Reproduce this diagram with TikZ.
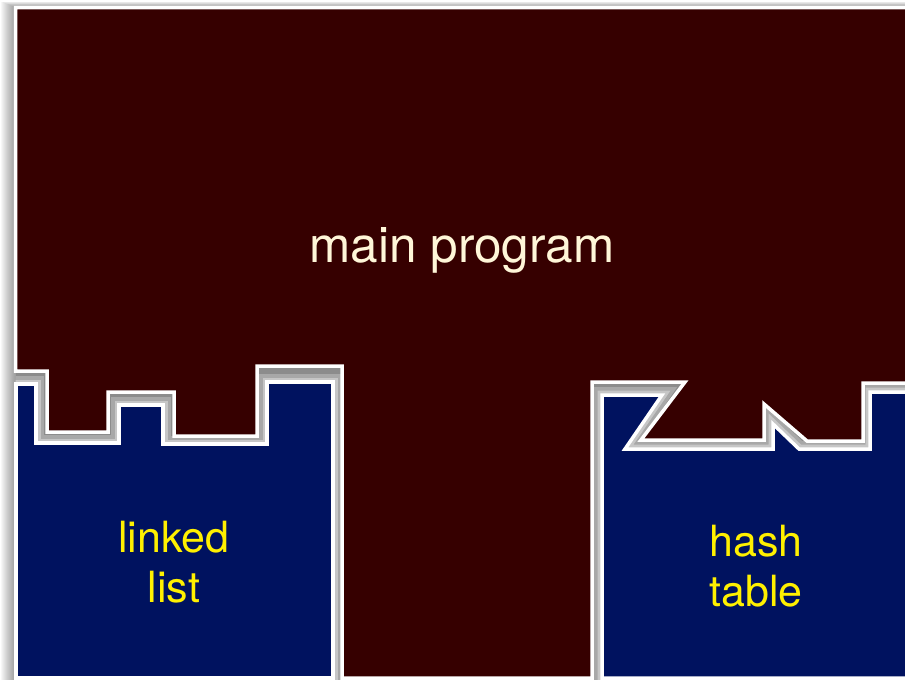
\documentclass[tikz,border=0pt]{standalone}
\usepackage{fontspec}
\setmainfont{TeX Gyre Heros}
\definecolor{maroonbg}{HTML}{360000}
\definecolor{navybg}{HTML}{00125F}
\definecolor{creamtxt}{HTML}{FFF6D8}
\definecolor{yeltxt}{HTML}{FFF000}
\definecolor{gutdark}{HTML}{8C8C8C}
\definecolor{gutmid}{HTML}{A8A8A8}
\definecolor{gutlight}{HTML}{C6C6C6}
\begin{document}
\begin{tikzpicture}[x=1pt,y=-1pt,
  piece/.style={draw=white,line width=3.5pt,line join=miter},
  bevelA/.style={draw=gutmid,line width=16pt,line join=miter},
  bevelB/.style={draw=gutlight,line width=9pt,line join=miter},
  bigtext/.style={font=\fontsize{49.5}{58}\selectfont,text=creamtxt,anchor=base,inner sep=0pt},
  smalltext/.style={font=\fontsize{43}{50}\selectfont,text=yeltxt,anchor=base,inner sep=0pt}]
\useasboundingbox (0,0) rectangle (905,680);
\clip (0,0) rectangle (905,680);
% soft shadow of the whole frame
\foreach \i in {1,...,15}
  \fill[black,opacity=0.03] (15.5-\i,7.5-0.4*\i) rectangle (930,700);
% gutter
\begin{scope}
\clip (15.5,7.5) rectangle (930,700);
\fill[gutdark] (15.5,7.5) rectangle (930,700);
\def\blueL{(16,384) -- (36,384) -- (36,443) -- (119,443) -- (119,405) -- (163,405) -- (163,444) -- (267,444) -- (267,382) -- (333,382) -- (333,678) -- (16,678) -- cycle}
\def\blueR{(602,395) -- (662,395) -- (625,449) -- (773,449) -- (773,424) -- (799,449) -- (870,449) -- (870,392) -- (930,392) -- (930,678) -- (602,678) -- cycle}
\draw[bevelA] \blueL;
\draw[bevelA] \blueR;
\draw[bevelB] \blueL;
\draw[bevelB] \blueR;
\end{scope}
% main program piece
\filldraw[piece,fill=maroonbg]
  (15.5,7.5) -- (930,7.5) -- (930,383) -- (863,383) -- (863,441) -- (807,441)
  -- (764,404) -- (764,440) -- (641,440) -- (685,382) -- (592,382) -- (592,678)
  -- (342,678) -- (342,366) -- (257,366) -- (257,436) -- (174,436) -- (174,392)
  -- (108,392) -- (108,432) -- (47,432) -- (47,371) -- (15.5,371) -- cycle;
% linked list piece
\filldraw[piece,fill=navybg]
  (16,384) -- (36,384) -- (36,443) -- (119,443) -- (119,405) -- (163,405)
  -- (163,444) -- (267,444) -- (267,382) -- (333,382) -- (333,678) -- (16,678) -- cycle;
% hash table piece
\filldraw[piece,fill=navybg]
  (602,395) -- (662,395) -- (625,449) -- (773,449) -- (773,424) -- (799,449)
  -- (870,449) -- (870,392) -- (930,392) -- (930,678) -- (602,678) -- cycle;
% labels
\node[bigtext] (mainlbl) at (462,262) {main program};
\node[smalltext] (ll1) at (174,552) {linked};
\node[smalltext] (ll2) at (174,602) {list};
\node[smalltext] (ht1) at (756,556) {hash};
\node[smalltext] (ht2) at (756,606) {table};
\end{tikzpicture}
\end{document}
